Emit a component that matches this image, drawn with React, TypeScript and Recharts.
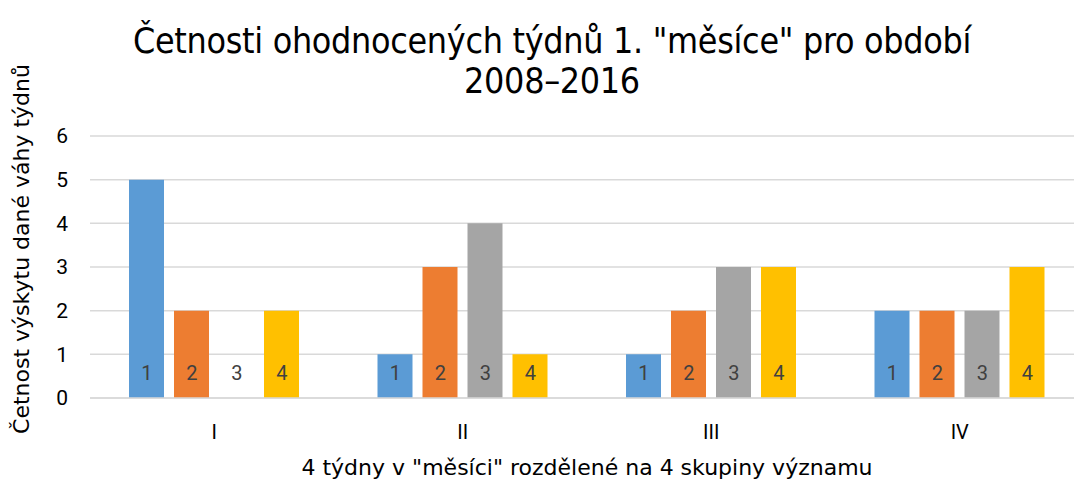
import React from 'react';
import { BarChart, Bar, XAxis, YAxis, CartesianGrid } from 'recharts';

const categories = ['I', 'II', 'III', 'IV'];
const series1 = [5, 1, 1, 2];
const series2 = [2, 3, 2, 2];
const series3 = [0, 4, 3, 2];
const series4 = [2, 1, 3, 3];
const yTicks = [0, 1, 2, 3, 4, 5, 6];

const seriesNames = ['1', '2', '3', '4'];
const seriesKeys = ['s1', 's2', 's3', 's4'];
const colors = ['#5B9BD5', '#ED7D31', '#A5A5A5', '#FFC000'];
const titleLines = ['Četnosti ohodnocených týdnů 1. "měsíce" pro období', '2008–2016'];

const BAR_SIZE = 35;
const BAR_GAP = 10;

const data = categories.map((c, i) => ({
  name: c,
  s1: series1[i],
  s2: series2[i],
  s3: series3[i],
  s4: series4[i],
}));

// category tick + the "inside base" data labels (drawn here so the 0-height bar keeps its label)
const CategoryTick = (props: any) => {
  const { x, y, payload } = props;
  const axisY = Number(y) - 27;
  return (
    <g>
      <text x={x} y={y} dy="0.71em" textAnchor="middle" fontSize={20} fill="#000" fontFamily="Roboto, sans-serif">
        {payload.value}
      </text>
      {seriesNames.map((s, i) => (
        <text
          key={s}
          x={Number(x) + (i - 1.5) * (BAR_SIZE + BAR_GAP)}
          y={axisY - 25}
          textAnchor="middle"
          dominantBaseline="central"
          fontSize={20}
          fill="#404040"
          fontFamily="Roboto, sans-serif"
        >
          {s}
        </text>
      ))}
    </g>
  );
};

export default function App() {
  return (
    <div
      style={{
        position: 'absolute',
        left: 0,
        top: 0,
        width: 1074,
        height: 479,
        overflow: 'hidden',
        background: '#fff',
        fontFamily: 'Roboto, sans-serif',
      }}
    >
      {titleLines.map((line, i) => (
        <div
          key={i}
          style={{
            position: 'absolute',
            left: 0,
            width: 1104,
            top: 41 + i * 40,
            transform: 'translateY(-50%)',
            textAlign: 'center',
            fontFamily: '"Liberation Sans Narrow", "DejaVu Sans Condensed", sans-serif',
            fontSize: 35.5,
            letterSpacing: -0.3,
            lineHeight: '32px',
            color: '#000',
            whiteSpace: 'nowrap',
          }}
        >
          {line}
        </div>
      ))}
      <div
        style={{
          position: 'absolute',
          left: 21,
          top: 249,
          transform: 'translate(-50%, -50%) rotate(-90deg)',
          whiteSpace: 'nowrap',
          fontFamily: '"DejaVu Sans", sans-serif',
          fontSize: 22,
          color: '#000',
        }}
      >
        Četnost výskytu dané váhy týdnů
      </div>
      <div
        style={{
          position: 'absolute',
          left: 587,
          top: 467,
          transform: 'translate(-50%, -50%)',
          whiteSpace: 'nowrap',
          fontFamily: '"DejaVu Sans", sans-serif',
          fontSize: 22,
          color: '#000',
        }}
      >
        4 týdny v "měsíci" rozdělené na 4 skupiny významu
      </div>
      <BarChart
        width={1100}
        height={479}
        data={data}
        margin={{ top: 136, right: 16, bottom: 21, left: 0 }}
        barGap={BAR_GAP}
        barSize={BAR_SIZE}
      >
        <CartesianGrid vertical={false} stroke="#D9D9D9" strokeWidth={1.5} />
        <XAxis
          dataKey="name"
          height={60}
          axisLine={{ stroke: '#D9D9D9', strokeWidth: 1.5 }}
          tickLine={false}
          tickSize={0}
          tickMargin={27}
          tick={<CategoryTick />}
        />
        <YAxis
          width={90}
          domain={[0, 6]}
          ticks={yTicks}
          axisLine={false}
          tickLine={false}
          tickSize={0}
          tickMargin={22}
          tick={{ fontSize: 21, fill: '#000' }}
        />
        {seriesKeys.map((key, i) => (
          <Bar key={key} dataKey={key} name={seriesNames[i]} fill={colors[i]} isAnimationActive={false} />
        ))}
      </BarChart>
    </div>
  );
}
